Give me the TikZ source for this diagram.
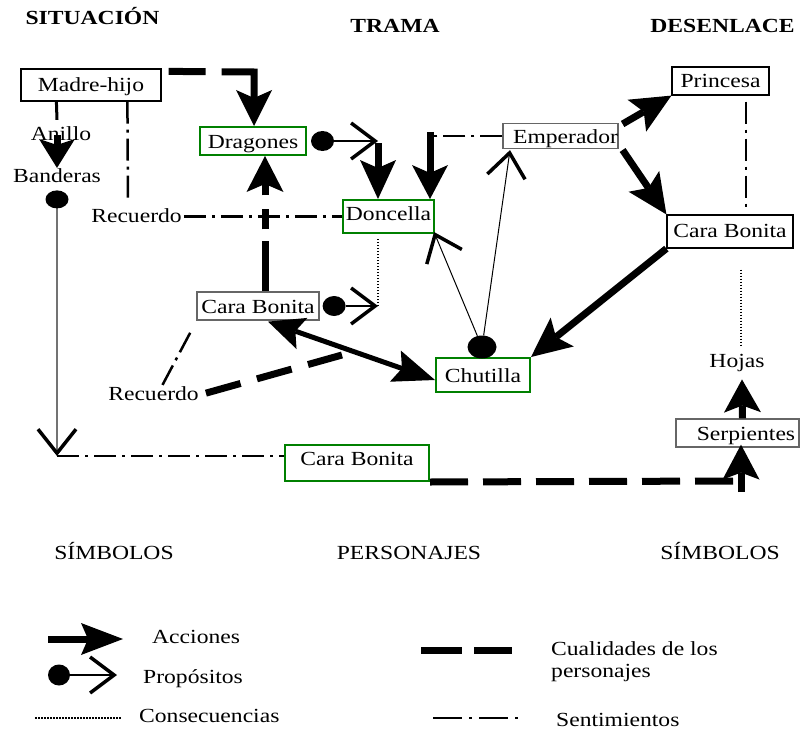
\documentclass[tikz,border=0pt]{standalone}
\usepackage{fontspec}
\setmainfont{Liberation Serif}[FakeStretch=1.18]
\usetikzlibrary{arrows.meta,calc,shapes.geometric}
\newcommand\myfs{\fontsize{20pt}{24pt}\selectfont}
\begin{document}
\begin{tikzpicture}[x=1pt,y=-1pt,font=\myfs,
  nbox/.style={draw=black,line width=1.2pt,inner sep=0pt,text height=18pt,text depth=4pt,fill=white},
  gbox/.style={nbox,draw=green!50!black,line width=2pt},
  graybox/.style={nbox,draw=black!60},
  lbl/.style={inner sep=0pt,anchor=base},
  lgd/.style={inner sep=0pt,anchor=base west},
  act/.style={line width=7pt,-{Stealth[length=40pt,width=37pt,inset=8pt,line width=0pt]}},
  qual/.style={line width=7pt,dash pattern=on 38pt off 15pt},
  sent/.style={line width=2.5pt,dash pattern=on 22pt off 6pt on 3pt off 6pt},
  cons/.style={line width=2.5pt,dash pattern=on 1.5pt off 1.5pt},
  purp/.style={line width=1.2pt,{Circle[length=23pt,width=20pt,line width=0pt]}-{Straight Barb[length=24pt,width=36pt,line width=3.5pt]}},
  purpv/.style={line width=1.2pt,draw=black!55,{Circle[length=18pt,width=23pt,line width=0pt,color=black]}-{Straight Barb[length=24pt,width=38pt,line width=3.5pt,color=black]}},
  thinp/.style={line width=1pt,-{Straight Barb[length=24pt,width=38pt,line width=3.5pt]}}
]
\fill[white] (0,0) rectangle (800,733);
\useasboundingbox (0,0) rectangle (800,733);

% titles
\node[lbl,font=\myfs\bfseries] (t1) at (92.5,25) {SITUACIÓN};
\node[lbl,font=\myfs\bfseries] (t2) at (395,33) {TRAMA};
\node[lbl,font=\myfs\bfseries] (t3) at (722.5,33) {DESENLACE};

% boxes
\node[nbox,minimum width=140pt,minimum height=32pt] (madre) at (91,85) {Madre-hijo};
\node[gbox,minimum width=106pt,minimum height=28pt] (drag) at (253,141) {Dragones};
\node[gbox,minimum width=91pt,minimum height=33pt,text height=11pt] (donc) at (388.5,216.5) {Doncella};
\node[graybox,minimum width=115pt,minimum height=25pt] (emp) at (560.5,136) {\hspace*{10pt}Emperador};
\node[nbox,minimum width=97pt,minimum height=28pt] (prin) at (720.5,81) {Princesa};
\node[nbox,minimum width=126pt,minimum height=33pt,text height=15pt] (cbr) at (730,231.5) {Cara Bonita};
\node[graybox,minimum width=122pt,minimum height=28pt] (cbm) at (258,306) {Cara Bonita};
\node[gbox,minimum width=94pt,minimum height=34pt] (chut) at (483,375) {Chutilla};
\node[gbox,minimum width=144pt,minimum height=36pt,text height=8pt] (cbb) at (357,463) {Cara Bonita};
\node[graybox,minimum width=123pt,minimum height=28pt] (serp) at (737.5,433) {\hspace*{17pt}Serpientes};

% plain labels
\node[lbl] (anillo) at (61,140) {Anillo};
\node[lbl] (band) at (57,182) {Banderas};
\node[lbl] (rec1) at (136.5,222) {Recuerdo};
\node[lbl] (rec2) at (153.5,400) {Recuerdo};
\node[lbl] (hojas) at (737,367) {Hojas};
\node[lbl] (s1) at (114,559) {SÍMBOLOS};
\node[lbl] (pers) at (409,559) {PERSONAJES};
\node[lbl] (s2) at (720,559) {SÍMBOLOS};

% Madre-hijo -> Dragones (cualidades + accion)
\coordinate (c1) at (254,72);
\draw[qual,dash pattern=on 37pt off 16pt on 90pt,-{Stealth[length=36pt,width=36pt,inset=8pt,line width=0pt]}]
  ($(madre.north east)+(7,3)$) -- (c1) -- (drag.north -| c1);

% Madre-hijo -> Anillo -> Banderas
\draw[line width=3pt] ($(madre.south west)+(36,0)$) -- ($(anillo.north -| band)+(0,-6)$);
\draw[act,-{Stealth[length=29pt,width=36pt,inset=6pt,line width=0pt]}] ($(anillo.north -| band)+(0,9)$) -- (band.north);

% Banderas -> (proposito) -> Cara Bonita bottom
\coordinate (c3) at (57,456);
\draw[purpv] ($(band.south)+(0,8)$) -- (c3);
\draw[sent] (c3) -- (c3 -| cbb.west);

% Madre-hijo - Recuerdo - Doncella
\draw[sent] ($(madre.south west)+(107,0)$) -- ($(rec1.north)+(-8.5,-5)$);
\draw[sent] ($(rec1.east |- donc.west)+(2,0)$) -- (donc.west);

% Dragones -> Doncella
\coordinate (c5) at (378,141);
\draw[purp] ($(drag.east)+(4,0)$) -- (c5);
\draw[act,-{Stealth[length=39pt,width=36pt,inset=8pt,line width=0pt]}] ($(c5)+(0,2)$) -- (donc.north -| c5);

% Emperador -> Doncella
\coordinate (c6) at (430,136);
\draw[sent] (emp.west) -- (c6);
\draw[act,-{Stealth[length=34pt,width=36pt,inset=8pt,line width=0pt]}] ($(c6)+(0,-4)$) -- (donc.north -| c6);

% Cara Bonita (mid) -> Doncella
\coordinate (c7) at (378,306);
\draw[purp] ($(cbm.east)+(3,0)$) -- (c7);
\draw[cons] (c7) -- ($(donc.south -| c7)+(0,3)$);

% Cara Bonita (mid) -> Dragones
\draw[qual,dash pattern=on 50pt off 12pt on 20pt off 14pt on 40pt,-{Stealth[length=36pt,width=37pt,inset=8pt,line width=0pt]}]
  ($(cbm.north)+(7,0)$) -- ($(drag.south)+(12,0)$);

% Cara Bonita (mid) <-> Chutilla
\draw[line width=5pt,{Stealth[length=36pt,width=33pt,inset=7pt,line width=0pt]}-{Stealth[length=42pt,width=33pt,inset=7pt,line width=0pt]}]
  ($(cbm.south)+(10,1)$) -- ($(chut.west)+(0,5)$);

% Recuerdo (lower)
\coordinate (c10) at (342,355);
\draw[qual,dash pattern=on 36pt off 17pt] ($(rec2.east)+(7,0)$) -- (c10);
\draw[sent] ($(rec2.north)+(9,-1)$) -- ($(cbm.south west)+(-4,8)$);

% Chutilla -> Doncella, Emperador
\node[ellipse,fill=black,inner sep=0pt,minimum width=29pt,minimum height=23pt] (chdot) at (482,347) {};
\draw[thinp] (chdot) -- ($(donc.south east)+(-1,-2)$);
\draw[thinp] (chdot) -- ($(emp.south)+(-50.5,1)$);

% Emperador -> Princesa, Cara Bonita (right)
\draw[act] ($(emp.east)+(4,-12)$) -- (prin.south west);
\draw[act] ($(emp.east)+(4,14)$) -- (cbr.north west);

% Princesa - Cara Bonita (right)
\draw[sent] ($(prin.south)+(25.5,6)$) -- ($(cbr.north)+(16,-4)$);

% Cara Bonita (right) -> Chutilla
\draw[act] (cbr.south west) -- (chut.north east);

% Cara Bonita (right) ... Hojas
\draw[cons] ($(cbr.south)+(11,21)$) -- ($(hojas.north)+(4,-6)$);

% Serpientes -> Hojas
\draw[act,-{Stealth[length=33pt,width=37pt,inset=7pt,line width=0pt]}] ($(serp.north)+(5,0)$) -- ($(hojas.south)+(5,8)$);

% Cara Bonita (bottom) -> Serpientes
\coordinate (c19) at (735,481);
\draw[qual] (cbb.south east) -- (c19);
\draw[act,-{Stealth[length=35pt,width=37pt,inset=7pt,line width=0pt]}] ($(c19)+(6,11)$) -- ($(serp.south)+(3.5,-3)$);

% legend
\coordinate (la1) at (48,639);
\coordinate (la2) at (123,639);
\draw[act,-{Stealth[length=42pt,width=32pt,inset=7pt,line width=0pt]}] (la1) -- (la2);
\node[lgd] (lacc) at (152,643) {Acciones};

\coordinate (lp1) at (48,675);
\coordinate (lp2) at (117,675);
\draw[line width=1.2pt,{Circle[length=22pt,width=21pt,line width=0pt]}-{Straight Barb[length=24pt,width=36pt,line width=3.5pt]}] (lp1) -- (lp2);
\node[lgd] (lprop) at (143,683) {Propósitos};

\coordinate (lc1) at (35,718);
\coordinate (lc2) at (122,718);
\draw[cons,line width=1.8pt] (lc1) -- (lc2);
\node[lgd] (lcons) at (139,722) {Consecuencias};

\coordinate (lq1) at (421,650);
\coordinate (lq2) at (512,650);
\draw[qual,dash pattern=on 41pt off 12pt] (lq1) -- (lq2);
\node[lgd] (lqual) at (551,655) {Cualidades de los};
\node[lgd] (lqual2) at (551,677) {personajes};

\coordinate (ls1) at (433,718);
\coordinate (ls2) at (522,718);
\draw[sent,dash pattern=on 29pt off 7pt on 3pt off 7pt] (ls1) -- (ls2);
\node[lgd] (lsent) at (556,726) {Sentimientos};
\end{tikzpicture}
\end{document}
